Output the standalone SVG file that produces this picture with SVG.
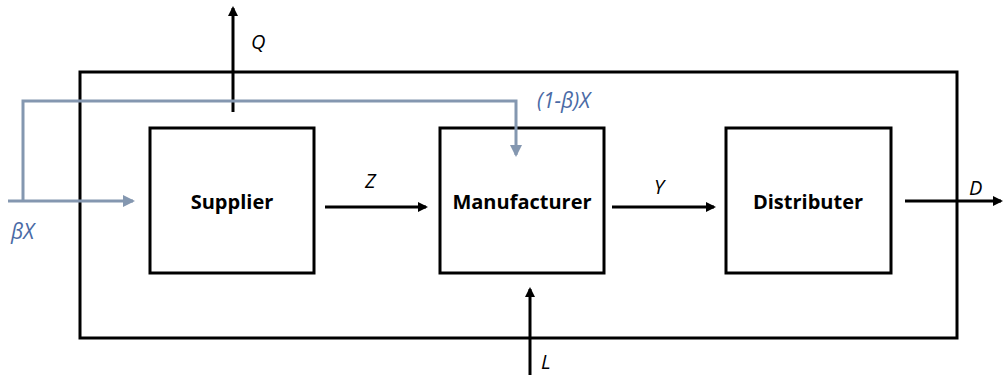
<svg xmlns="http://www.w3.org/2000/svg" width="1003" height="378" viewBox="0 0 1003 378">
<style>
.box{fill:#fff;stroke:#000;stroke-width:3}
.outer{fill:none;stroke:#000;stroke-width:3}
.lbl{font-family:"Open Sans","Noto Sans",sans-serif;font-weight:bold;font-size:20px;fill:#000;text-anchor:middle}
.it{font-family:"Open Sans","Noto Sans",sans-serif;font-style:italic;font-size:20px;fill:#000}
.blt{font-family:"Open Sans","Noto Sans",sans-serif;font-style:italic;font-size:21px;fill:#4a6aa5}
.k{stroke:#000;stroke-width:3;fill:none}
.b{stroke:#8497b0;stroke-width:3;fill:none}
</style>
<defs>
<marker id="ak" markerWidth="10" markerHeight="10" refX="8" refY="5" orient="auto" markerUnits="userSpaceOnUse"><path d="M0,0 L10,5 L0,10 z" fill="#000"/></marker>
<marker id="ab" markerWidth="12" markerHeight="12" refX="10" refY="6" orient="auto" markerUnits="userSpaceOnUse"><path d="M0,0 L12,6 L0,12 z" fill="#8497b0"/></marker>
</defs>
<rect class="outer" x="80" y="72" width="877" height="266"/>
<g id="supplier"><rect class="box" x="150" y="128" width="164" height="145"/><text class="lbl" x="232" y="209">Supplier</text></g>
<g id="manufacturer"><rect class="box" x="440" y="128" width="164" height="145"/><text class="lbl" x="522" y="209">Manufacturer</text></g>
<g id="distributer"><rect class="box" x="726" y="128" width="165" height="145"/><text class="lbl" x="808" y="209">Distributer</text></g>
<g id="connectors">
<line class="k" x1="233" y1="112" x2="233" y2="8" marker-end="url(#ak)"/>
<line class="k" x1="325" y1="207" x2="426" y2="207" marker-end="url(#ak)"/>
<line class="k" x1="612" y1="207" x2="714" y2="207" marker-end="url(#ak)"/>
<line class="k" x1="905" y1="201" x2="1001" y2="201" marker-end="url(#ak)"/>
<line class="k" x1="530" y1="375" x2="530" y2="289" marker-end="url(#ak)"/>
<line class="b" x1="8" y1="201" x2="133" y2="201" marker-end="url(#ab)"/>
<polyline class="b" points="23,201 23,101 516,101 516,155" marker-end="url(#ab)"/>
</g>
<text class="it" x="251" y="49">Q</text>
<text class="it" x="365" y="188">Z</text>
<text class="it" x="654" y="194">Y</text>
<text class="it" x="969" y="195">D</text>
<text class="it" x="541" y="369">L</text>
<text class="blt" x="11" y="239">βX</text>
<text class="blt" x="537" y="108">(1-β)X</text>
</svg>
